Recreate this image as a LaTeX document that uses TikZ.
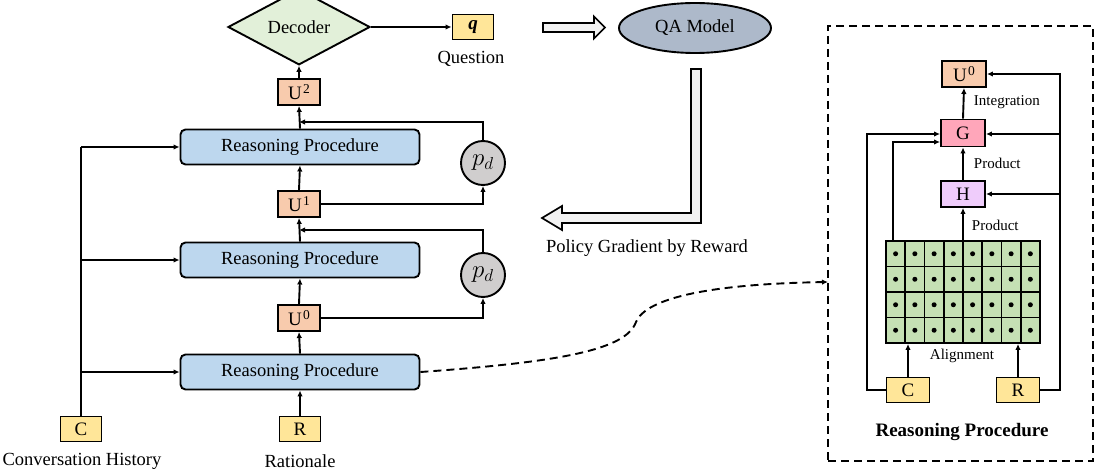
\documentclass[tikz,border=0pt]{standalone}
\usepackage{fontspec}
\setmainfont{Liberation Serif}
\usetikzlibrary{shapes.geometric,arrows.meta,calc}
\definecolor{decfill}{HTML}{E2F0D9}
\definecolor{yel}{HTML}{FFE699}
\definecolor{ora}{HTML}{F8CBAD}
\definecolor{blu}{HTML}{BDD7EE}
\definecolor{gry}{HTML}{D0CECE}
\definecolor{qafill}{HTML}{ADB9CA}
\definecolor{pinkg}{HTML}{FFA6BA}
\definecolor{purh}{HTML}{EFCCFB}
\definecolor{grn}{HTML}{C5E0B4}
\definecolor{hol}{HTML}{F2F2F2}
\newcommand{\Usup}[1]{U\hspace{1.5pt}\raisebox{5.5pt}{\fontsize{13.5}{14}\selectfont #1}}
\begin{document}
\begin{tikzpicture}[x=1pt,y=-1pt,line width=1.9pt,
  >={Latex[length=6pt,width=5.5pt]},
  mainfont/.style={font=\fontsize{18.5}{22}\selectfont},
  smallfont/.style={font=\fontsize{15}{18}\selectfont},
  boxfont/.style={font=\fontsize{19}{22}\selectfont},
  ubox/.style={draw,fill=ora,minimum width=42pt,minimum height=26pt,inner sep=0pt,boxfont},
  ybox/.style={draw,fill=yel,minimum width=41pt,minimum height=25pt,inner sep=0pt,boxfont},
  rpbox/.style={draw,fill=blu,rounded corners=5pt,minimum width=239pt,minimum height=35pt,inner sep=0pt,mainfont},
  pdcirc/.style={draw,circle,fill=gry,minimum size=44pt,inner sep=0pt,font=\fontsize{24}{26}\selectfont},
  ibox/.style={draw,minimum width=44pt,minimum height=26pt,inner sep=0pt,boxfont},
  lbl/.style={inner sep=0pt,mainfont},
  slbl/.style={inner sep=0pt,smallfont},
  hollow/.style={draw,fill=hol,line width=1.7pt,line join=miter},
  dsh/.style={dash pattern=on 8pt off 5pt}
]
\useasboundingbox (0,0) rectangle (1096,476);

% ---------- left column ----------
\node[draw,diamond,fill=decfill,minimum width=142pt,minimum height=50pt,inner sep=0pt,mainfont] (dec) at (299,27) {Decoder};
\node[ybox] (q) at (473,27) {\textbf{\textit{q}}};
\node[lbl] (qlbl) at (471,59) {Question};
\node[draw,ellipse,fill=qafill,minimum width=152pt,minimum height=50pt,inner sep=0pt,mainfont] (qa) at (695,28) {QA Model};
\node[lbl] (pg) at (647,248) {Policy Gradient by Reward};

\node[ubox] (U2) at (299,92) {\Usup{2}};
\node[rpbox] (rp1) at (300,147) {Reasoning Procedure};
\node[pdcirc] (pd1) at (483,163) {$p_d$};
\node[ubox] (U1) at (299,204) {\Usup{1}};
\node[rpbox] (rp2) at (300,260) {Reasoning Procedure};
\node[pdcirc] (pd2) at (483,275) {$p_d$};
\node[ubox] (U0) at (299,318) {\Usup{0}};
\node[rpbox] (rp3) at (300,372) {Reasoning Procedure};
\node[ybox] (C) at (81,429) {C};
\node[ybox] (R) at (300,429) {R};
\node[lbl] (clbl) at (82,461) {Conversation History};
\node[lbl] (rlbl) at (300,461) {Rationale};

\coordinate (f1) at (299,122);
\coordinate (f2) at (299,230);

\draw (C.north) -- (C.north |- rp1.west);
\draw[->] (C.north |- rp1.west) -- (rp1.west);
\draw[->] (C.north |- rp2.west) -- (rp2.west);
\draw[->] (C.north |- rp3.west) -- (rp3.west);
\draw[->] (R.north) -- (rp3.south);
\draw[->] (rp3.north) -- (U0.south);
\draw[->] (U0.north) -- (rp2.south);
\draw[->] (rp2.north) -- (U1.south);
\draw[->] (U1.north) -- (rp1.south);
\draw[->] (rp1.north) -- (U2.south);
\draw[->] (U2.north) -- (dec.south);
\draw[->] (dec.east) -- (q.west);
\draw[->] (U0.east) -| (pd2.south);
\draw[->] (U1.east) -| (pd1.south);
\draw[->] (pd2.north) |- (f2);
\draw[->] (pd1.north) |- (f1);

% hollow arrows
\draw[hollow] (543,23) -- (594,23) -- (594,16.5) -- (605,27.5) -- (594,38.5) -- (594,32) -- (543,32) -- cycle;
\draw[hollow] (691,69) -- (701,69) -- (701,223) -- (562,223) -- (562,230) -- (542,218) -- (562,206) -- (562,213) -- (691,213) -- cycle;

% ---------- right panel ----------
\node[draw,dsh,minimum width=265pt,minimum height=435pt,inner sep=0pt] (panel) at (960.5,243.5) {};
\coordinate (dend) at (828,282);
\draw[dsh,->] (rp3.east) .. controls (560,362) and (626,350) .. (636,322)
   .. controls (646,298) and (710,284) .. (dend);

\node[ibox,fill=ora] (iU0) at (964,74) {\Usup{0}};
\node[ibox,fill=pinkg,minimum height=27pt] (iG) at (963,133) {G};
\node[ibox,fill=purh] (iH) at (963,194) {H};
\node[draw,fill=grn,minimum width=154pt,minimum height=102pt,inner sep=0pt] (grid) at (963,292) {};
\foreach \i in {1,...,7} \draw (886+\i*19.25,241) -- (886+\i*19.25,343);
\foreach \j in {1,2,3} \draw (886,241+\j*25.5) -- (1040,241+\j*25.5);
\foreach \i in {0,...,7} \foreach \j in {0,...,3}
  \fill (895.6+\i*19.25,253.75+\j*25.5) circle (2.5pt);
\node[ybox,minimum width=43pt] (iC) at (908,390) {C};
\node[ybox,minimum width=43pt] (iR) at (1018,390) {R};

\node[slbl,anchor=west] (intl) at (973,102) {Integration};
\node[slbl,anchor=west] (prod1) at (973,163) {Product};
\node[slbl,anchor=west] (prod2) at (971,225) {Product};
\node[slbl] (algl) at (962,356) {Alignment};
\node[inner sep=0pt,font=\fontsize{19}{22}\selectfont\bfseries] (rplbl) at (962,432) {Reasoning Procedure};

\coordinate (b1) at (867,134);
\coordinate (b2) at (893,142);
\coordinate (b3) at (1060,74);
\draw[->] (iC.west) -| (b1) -- (iG.west |- b1);
\draw[->] (b2 |- grid.north) -- (b2) -- (iG.west |- b2);
\draw[->] (iC.north) -- (iC.north |- grid.south);
\draw[->] (iR.north) -- (iR.north |- grid.south);
\draw[->] (grid.north) -- (iH.south);
\draw[->] (iH.north) -- (iG.south);
\draw[->] (iG.north) -- (iU0.south);
\draw[->] (iR.east) -| (b3) -- (iU0.east);
\draw[->] (b3 |- b1) -- (iG.east |- b1);
\draw[->] (b3 |- iH.east) -- (iH.east);
\end{tikzpicture}
\end{document}
